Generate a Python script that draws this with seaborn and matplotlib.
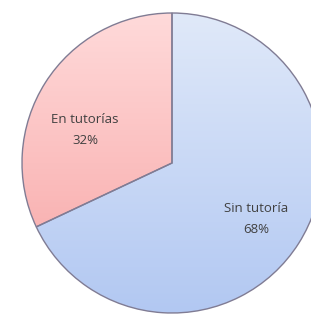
import numpy as np
import matplotlib
matplotlib.use("Agg")
import matplotlib.pyplot as plt
from matplotlib.colors import LinearSegmentedColormap
import seaborn as sns

labels = ["Sin tutoría", "En tutorías"]
values = [68, 32]
top_colors = ["#e0e9f9", "#ffdada"]
bottom_colors = ["#b2c8f2", "#f7a4a4"]

sns.set_theme(style="white")
plt.rcParams['font.family'] = ['Open Sans', 'DejaVu Sans']

W, H = 311, 315
fig = plt.figure(figsize=(W / 100, H / 100), dpi=100)
ax = fig.add_axes([0, 0, 1, 1])

cx, cy, r = 172, H - 163, 150
wedges, _ = ax.pie(values, startangle=90, counterclock=False, center=(cx, cy),
                   radius=r, frame=True,
                   wedgeprops=dict(edgecolor="#807c94", linewidth=1.0))

# vertical gradient fill inside each slice
grad = np.linspace(1, 0, 256).reshape(-1, 1)
for w, c_top, c_bot in zip(wedges, top_colors, bottom_colors):
    cmap = LinearSegmentedColormap.from_list("g", [c_bot, c_top])
    w.set_facecolor("none")
    im = ax.imshow(grad, cmap=cmap, extent=(cx - r, cx + r, cy - r, cy + r),
                   aspect="auto", origin="upper", zorder=0.5)
    im.set_clip_path(w)

total = sum(values)
label_pos = [(256, H - 219), (85, H - 130)]
for lab, v, (x, y) in zip(labels, values, label_pos):
    ax.text(x, y, f"{lab}\n{round(v / total * 100)}%", ha="center", va="center",
            fontsize=9.5, color="#404040", linespacing=1.75)

ax.set_xlim(0, W)
ax.set_ylim(0, H)
ax.set_aspect("equal")
ax.axis("off")
fig.savefig("out.png", dpi=100)
